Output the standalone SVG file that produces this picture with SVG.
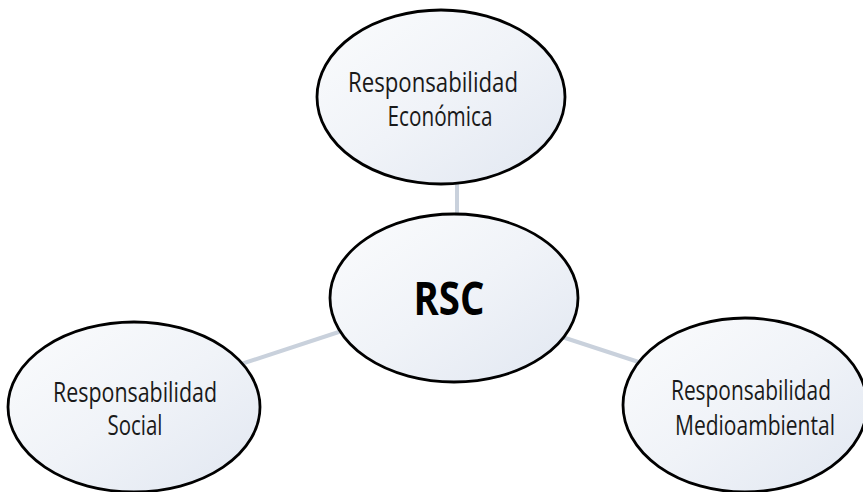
<svg xmlns="http://www.w3.org/2000/svg" width="863" height="492" viewBox="0 0 863 492">
<defs>
<linearGradient id="g" x1="0" y1="0" x2="1" y2="1">
<stop offset="0" stop-color="#fbfcfd"/>
<stop offset="0.5" stop-color="#f0f3f8"/>
<stop offset="1" stop-color="#e1e7f1"/>
</linearGradient>
</defs>
<style>
.n{fill:url(#g);stroke:#000;stroke-width:2.8}
.c{stroke:#c9d1dc;stroke-width:4;fill:none}
.t{font-family:"Open Sans","Liberation Sans",sans-serif;font-size:28px;fill:#1a1a1a;text-anchor:middle}
.b{font-family:"Open Sans","Liberation Sans",sans-serif;font-size:46px;font-weight:bold;fill:#000;text-anchor:middle}
</style>
<rect width="863" height="492" fill="#fff"/>
<g id="connectors">
<line class="c" x1="457" y1="150" x2="457" y2="240"/>
<line class="c" x1="220" y1="371" x2="360" y2="325"/>
<line class="c" x1="550" y1="333" x2="660" y2="369"/>
</g>
<g id="economica">
<ellipse class="n" cx="441" cy="97" rx="124" ry="87"/>
<text class="t" x="433" y="92" textLength="170" lengthAdjust="spacingAndGlyphs">Responsabilidad</text>
<text class="t" x="440" y="126" textLength="105" lengthAdjust="spacingAndGlyphs">Económica</text>
</g>
<g id="rsc">
<ellipse class="n" cx="454" cy="298" rx="124" ry="84"/>
<text class="b" x="449" y="315" textLength="71" lengthAdjust="spacingAndGlyphs">RSC</text>
</g>
<g id="social">
<ellipse class="n" cx="134" cy="407" rx="126" ry="85"/>
<text class="t" x="135" y="402" textLength="164" lengthAdjust="spacingAndGlyphs">Responsabilidad</text>
<text class="t" x="135" y="435" textLength="55" lengthAdjust="spacingAndGlyphs">Social</text>
</g>
<g id="medioambiental">
<ellipse class="n" cx="745" cy="405" rx="122" ry="87"/>
<text class="t" x="751" y="400" textLength="160" lengthAdjust="spacingAndGlyphs">Responsabilidad</text>
<text class="t" x="755" y="435" textLength="160" lengthAdjust="spacingAndGlyphs">Medioambiental</text>
</g>
</svg>
